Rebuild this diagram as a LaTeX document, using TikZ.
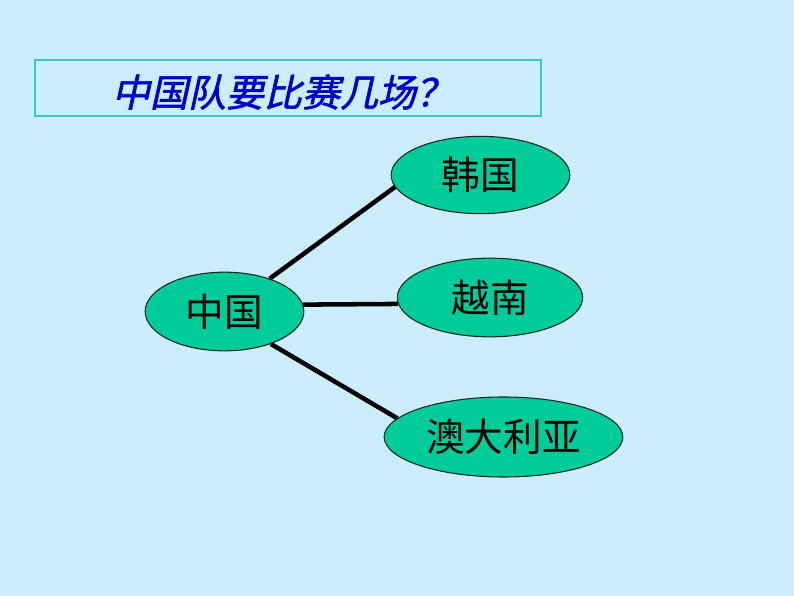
\documentclass[tikz,border=0pt]{standalone}
\usepackage{fontspec}
\newfontfamily\cjk{Noto Sans CJK SC}
\newfontfamily\cjktitle[FakeSlant=0.22,FakeBold=1.6]{Noto Sans CJK SC}
\usetikzlibrary{shapes.geometric}
\definecolor{bgblue}{RGB}{204,236,255}
\definecolor{boxteal}{RGB}{60,200,190}
\definecolor{titleblue}{RGB}{0,0,204}
\definecolor{nodegreen}{RGB}{0,204,153}
\tikzset{
  country/.style={ellipse,draw={rgb, 255:red, 20; green, 40; blue, 30},line width=0.8pt,fill=nodegreen,inner sep=0pt,font=\cjk\fontsize{29}{32}\selectfont},
  link/.style={line width=3.4pt,color=black}
}
\begin{document}
\begin{tikzpicture}[x=0.75pt,y=0.75pt,yscale=-1,xscale=1]
        % Background
        \path [fill=bgblue] (0,0) rectangle (794,596) ;
        % Title Box
        \draw [color=boxteal,line width=1.1pt] (35,60) rectangle (541,116) ;
        % Text Node
        \node (title) at (283,92) [inner sep=0pt,color=titleblue,font=\cjktitle\fontsize{28.5}{32}\selectfont] {中国队要比赛几场？};
        % Ellipse Nodes
        \node (cn) at (224.5,311.5) [country,minimum width=119pt,minimum height=59pt] {中国};
        \node (kr) at (480.5,175) [country,minimum width=134pt,minimum height=58pt] {韩国};
        \node (vn) at (490,297.5) [country,minimum width=139pt,minimum height=59pt] {越南};
        \node (au) at (503.5,437) [country,minimum width=179pt,minimum height=60pt] {澳大利亚};
        % Connection
        \draw [link] (cn.36) -- (kr.188) ;
        \draw [link] (cn.5) -- (vn.184) ;
        \draw [link] (cn.325) -- (au.170) ;
\end{tikzpicture}
\end{document}
